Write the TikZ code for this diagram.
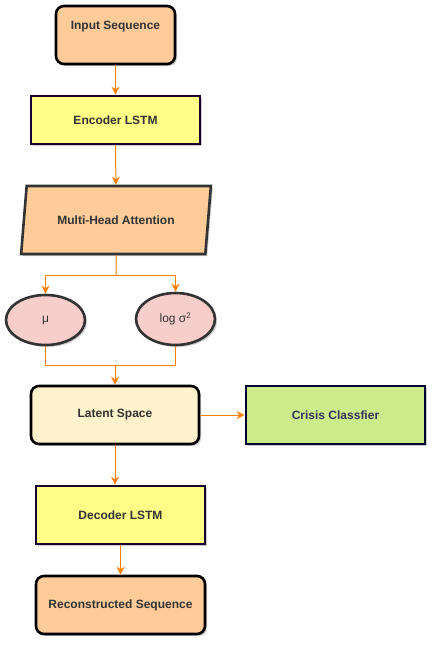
\documentclass[tikz,border=0pt]{standalone}
\usepackage{fontspec}
\setmainfont{Liberation Sans}
\usepackage{tikz}
\usetikzlibrary{shapes.geometric,arrows.meta,shadows}
\definecolor{txt}{HTML}{333333}
\definecolor{peach}{HTML}{FFCC99}
\definecolor{lemon}{HTML}{FFFF88}
\definecolor{cream}{HTML}{FFF2CC}
\definecolor{lime}{HTML}{CDEB8B}
\definecolor{rose}{HTML}{F8CECC}
\definecolor{plum}{HTML}{190033}
\definecolor{navy}{HTML}{000033}
\definecolor{flow}{HTML}{FF8000}
\tikzset{
  shade/.style={drop shadow={shadow xshift=2pt, shadow yshift=-2pt, opacity=0.2, fill=black}},
  rbox/.style={draw=black, line width=2.6pt, rounded corners=8pt, shade},
  sbox/.style={draw=plum, line width=2.6pt, shade},
  para/.style={trapezium, trapezium left angle=76, trapezium right angle=104, trapezium stretches=true,
    draw=txt, line width=2.6pt, fill=peach, shade},
  oval/.style={ellipse, draw=txt, line width=2.6pt, fill=rose, minimum width=79pt, minimum height=50pt, shade},
  lbl/.style={text=txt, font=\fontsize{12}{14}\selectfont\bfseries},
  olbl/.style={text=txt, font=\fontsize{12}{14}\selectfont},
  conn/.style={draw=flow, line width=1pt, -{Stealth[length=8pt, width=8pt, inset=2.5pt]}},
  plain/.style={draw=flow, line width=1pt}
}
\begin{document}
\begin{tikzpicture}[x=1pt,y=-1pt]
  \useasboundingbox (0,0) rectangle (434,645);

  \node[rbox, fill=peach, minimum width=119pt, minimum height=58pt] (input) at (115.5,35) {};
  \node[lbl] (inputtxt) at (115.5,27) {Input Sequence};
  \node[sbox, fill=lemon, minimum width=169pt, minimum height=48pt, lbl] (enc) at (115.5,120) {Encoder LSTM};
  \node[para, minimum width=190pt, minimum height=68pt, lbl] (attn) at (116,220) {Multi-Head Attention};
  \node[oval, olbl] (mu) at (45.5,320) {μ};
  \node[oval, olbl, minimum height=52pt] (logv) at (175.5,319) {log σ\textsuperscript{2}};
  \node[rbox, fill=cream, minimum width=168pt, minimum height=58pt, lbl] (latent) at (115,415) {Latent Space};
  \node[sbox, draw=navy, fill=lime, minimum width=179pt, minimum height=58pt, lbl, text=navy!80] (crisis) at (335.5,415) {Crisis Classfier};
  \node[sbox, fill=lemon, minimum width=169pt, minimum height=58pt, lbl] (dec) at (120.5,515) {Decoder LSTM};
  \node[rbox, fill=peach, minimum width=169pt, minimum height=58pt, lbl] (recon) at (120.5,605) {Reconstructed Sequence};

  \coordinate (split) at (116,275);
  \coordinate (join) at (115,365);

  % main flow
  \draw[conn] (input) -- (enc);
  \draw[conn] (enc) -- (attn);
  \draw[plain] (attn.south) -- (split);
  \draw[conn] (split) -| (mu.north);
  \draw[conn] (split) -| (logv.north);
  \draw[plain] (mu.south) |- (join);
  \draw[plain] (logv.south) |- (join);
  \draw[conn] (join) -- (latent.north);
  \draw[conn] (latent) -- (crisis);
  \draw[conn] (latent.south) -- (latent.south |- dec.north);
  \draw[conn] (dec) -- (recon);
\end{tikzpicture}
\end{document}
